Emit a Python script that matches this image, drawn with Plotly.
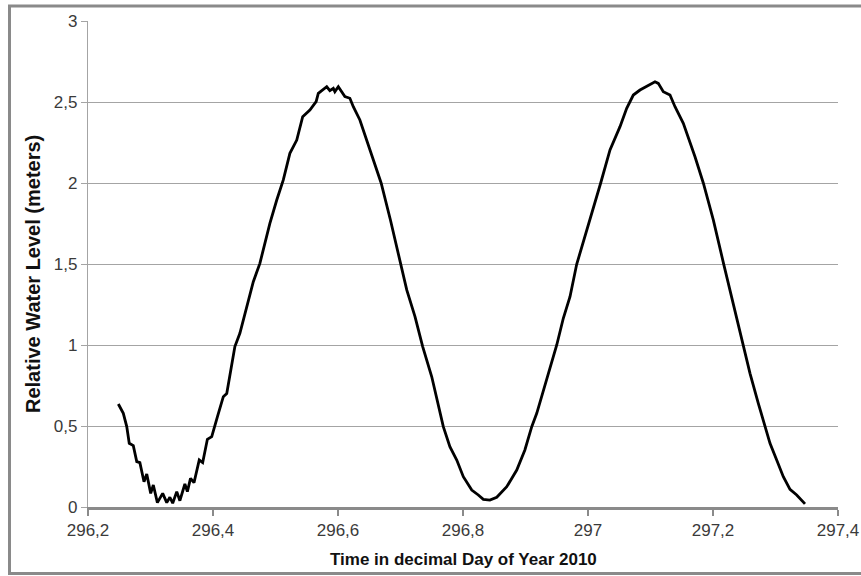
import plotly.graph_objects as go

time_day = [
    296.2485, 296.2565, 296.262, 296.266, 296.2725, 296.278, 296.283, 296.2896, 296.294,
    296.3003, 296.3045, 296.311, 296.3195, 296.326, 296.331, 296.3355, 296.342, 296.347,
    296.355, 296.359, 296.364, 296.3696, 296.378, 296.3835, 296.391, 296.398, 296.407,
    296.4165, 296.422, 296.4283, 296.435, 296.443, 296.452, 296.4645, 296.475, 296.491,
    296.502, 296.5125, 296.523, 296.534, 296.5435, 296.555, 296.565, 296.5685, 296.582,
    296.587, 296.5925, 296.595, 296.6005, 296.611, 296.619, 296.6245, 296.635, 296.646,
    296.6565, 296.669, 296.684, 296.700, 296.710, 296.7232, 296.7355, 296.75, 296.7605,
    296.7685, 296.779, 296.79, 296.8005, 296.814, 296.8245, 296.8325, 296.843, 296.854,
    296.87, 296.886, 296.899, 296.91, 296.918, 296.9285, 296.9392, 296.95, 296.9605,
    296.9712, 296.9819, 296.9952, 297.0085, 297.0203, 297.0352, 297.0512, 297.0619,
    297.0725, 297.0832, 297.0939, 297.1072, 297.1125, 297.1205, 297.1312, 297.1392,
    297.1525, 297.1712, 297.1845, 297.2005, 297.2172, 297.2272, 297.2379, 297.2485,
    297.2592, 297.2725, 297.2832, 297.2912, 297.3019, 297.3125, 297.3232, 297.3339,
    297.3472,
]
water_level = [
    0.636, 0.578, 0.496, 0.393, 0.379, 0.28, 0.274, 0.156, 0.204,
    0.084, 0.136, 0.027, 0.084, 0.027, 0.06, 0.023, 0.095, 0.039,
    0.142, 0.095, 0.177, 0.15, 0.29, 0.274, 0.418, 0.434, 0.557,
    0.681, 0.70, 0.846, 0.99, 1.072, 1.2, 1.391, 1.504, 1.751,
    1.895, 2.019, 2.183, 2.265, 2.409, 2.45, 2.502, 2.553, 2.594,
    2.57, 2.584, 2.564, 2.594, 2.533, 2.523, 2.471, 2.389, 2.265,
    2.142, 2.0, 1.77, 1.51, 1.34, 1.175, 0.99, 0.804, 0.64,
    0.496, 0.372, 0.29, 0.187, 0.105, 0.074, 0.047, 0.043, 0.06,
    0.125, 0.228, 0.352, 0.496, 0.578, 0.722, 0.866, 1.0, 1.165,
    1.298, 1.498, 1.669, 1.854, 2.0, 2.204, 2.348, 2.461,
    2.543, 2.574, 2.599, 2.625, 2.615, 2.564, 2.543, 2.471,
    2.368, 2.162, 2.0, 1.772, 1.498, 1.34, 1.175, 0.996,
    0.825, 0.64, 0.496, 0.393, 0.29, 0.187, 0.109, 0.074,
    0.019,
]

x_tick_vals = [296.2, 296.4, 296.6, 296.8, 297.0, 297.2, 297.4]
x_tick_text = ["296,2", "296,4", "296,6", "296,8", "297", "297,2", "297,4"]
y_tick_vals = [0, 0.5, 1, 1.5, 2, 2.5, 3]
y_tick_text = ["0", "0,5", "1", "1,5", "2", "2,5", "3"]

x_title = "Time in decimal Day of Year 2010"
y_title = "Relative Water Level (meters)"

FONT = "Liberation Sans, Arial, sans-serif"

fig = go.Figure()
fig.add_trace(go.Scatter(
    x=time_day, y=water_level, mode="lines",
    line=dict(color="black", width=2.8),
    showlegend=False, hoverinfo="skip",
))

W, H = 861, 576
L, R, T, B = 88, 23, 21, 69
pw, ph = W - L - R, H - T - B


def px_x(p):
    return (p - L) / pw


def px_y(p):
    return (H - B - p) / ph


fig.update_layout(
    width=W, height=H,
    margin=dict(l=L, r=R, t=T, b=B, autoexpand=False),
    paper_bgcolor="white", plot_bgcolor="white",
    font=dict(family=FONT, size=17, color="#3a3a3a"),
    xaxis=dict(
        range=[296.2, 297.4], tickvals=x_tick_vals, ticktext=x_tick_text,
        showgrid=False, zeroline=False, automargin=False,
        showline=True, linecolor="#8a8a8a", linewidth=2.5,
        ticks="outside", ticklen=6, tickcolor="#8a8a8a", tickwidth=2,
        tickfont=dict(family=FONT, size=17, color="#3a3a3a"),
    ),
    yaxis=dict(
        range=[0, 3], tickvals=y_tick_vals, ticktext=y_tick_text,
        showgrid=True, gridcolor="#a4a4a4", gridwidth=1.2, zeroline=False,
        automargin=False,
        showline=True, linecolor="#a4a4a4", linewidth=1.2,
        ticks="outside", ticklen=6, tickcolor="#a4a4a4", tickwidth=1.2,
        tickfont=dict(family=FONT, size=17, color="#3a3a3a"),
    ),
    annotations=[
        dict(text="<b>" + x_title + "</b>", xref="paper", yref="paper",
             x=px_x(463), y=px_y(559), xanchor="center", yanchor="middle",
             showarrow=False, font=dict(family=FONT, size=17, color="#111111")),
        dict(text="<b>" + y_title + "</b>", xref="paper", yref="paper",
             x=px_x(33), y=px_y(274), xanchor="center", yanchor="middle",
             textangle=-90, showarrow=False,
             font=dict(family=FONT, size=20, color="#111111")),
    ],
    shapes=[dict(
        type="rect", xref="paper", yref="paper",
        x0=px_x(9.5), x1=px_x(864),
        y0=px_y(573.5), y1=px_y(6),
        line=dict(color="#8a8a8a", width=3), fillcolor="rgba(0,0,0,0)", layer="below",
    )],
)

fig.write_html(
    "out.html",
    config={"displayModeBar": False},
    post_script="document.body.style.margin='0';document.body.style.overflow='hidden';",
)
